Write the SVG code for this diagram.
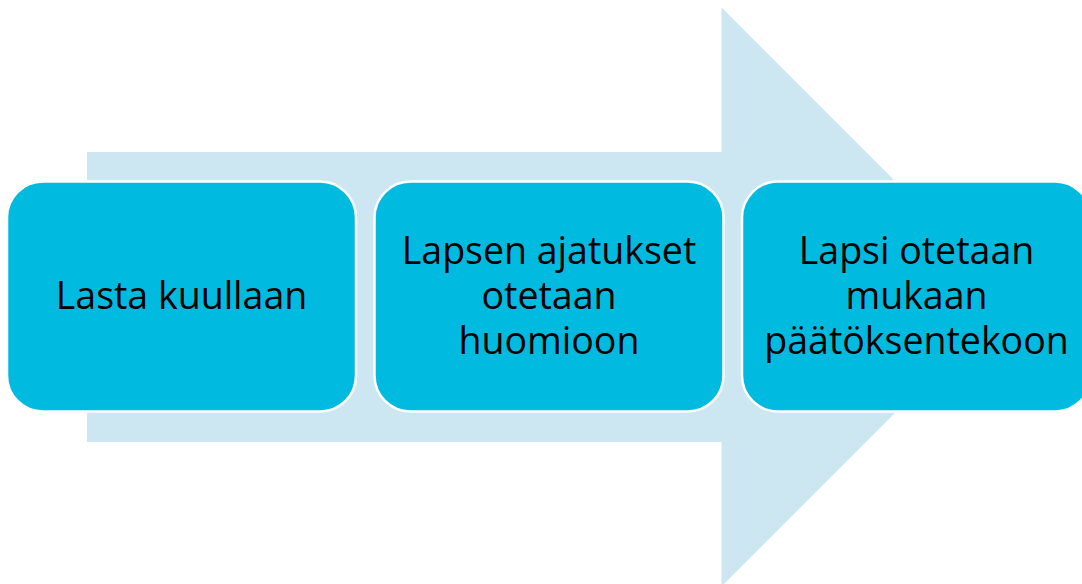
<svg xmlns="http://www.w3.org/2000/svg" width="1082" height="584" viewBox="0 0 1082 584">
<style>
.box{fill:#00BBDF;stroke:#FFFFFF;stroke-width:2.5}
.t{font-family:"Open Sans","Noto Sans",sans-serif;font-size:37.5px;fill:#000;text-anchor:middle}
</style>
<rect width="1082" height="584" fill="#FFFFFF"/>
<g id="arrow">
<path d="M87,152 H721.5 V7.5 L1011,297 L721.5,586.5 V442 H87 Z" fill="#CCE7F1"/>
</g>
<g id="node1">
<rect class="box" x="7" y="181.5" width="349" height="230" rx="36" ry="36"/>
<text class="t" x="181.5" y="309">Lasta kuullaan</text>
</g>
<g id="node2">
<rect class="box" x="374.5" y="181.5" width="349" height="230" rx="36" ry="36"/>
<text class="t" x="549" y="263.5">Lapsen ajatukset</text>
<text class="t" x="549" y="309">otetaan</text>
<text class="t" x="549" y="354">huomioon</text>
</g>
<g id="node3">
<rect class="box" x="742" y="181.5" width="349" height="230" rx="36" ry="36"/>
<text class="t" x="916.5" y="263.5">Lapsi otetaan</text>
<text class="t" x="916.5" y="309">mukaan</text>
<text class="t" x="916.5" y="354">päätöksentekoon</text>
</g>
<g id="connectors"></g>
</svg>
